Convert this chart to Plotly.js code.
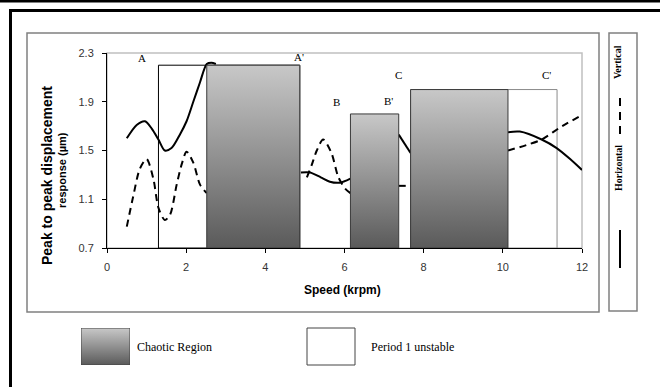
<!DOCTYPE html>
<html><head><meta charset="utf-8">
<script src="https://cdn.plot.ly/plotly-3.0.1.min.js"></script>
<style>html,body{margin:0;padding:0;background:#fff}#chart{width:660px;height:387px}</style>
</head><body><div id="chart"></div>
<script>
// ---- data ----
const xTickVals = [0, 2, 4, 6, 8, 10, 12];
const yTickVals = [0.7, 1.1, 1.5, 1.9, 2.3];
const yTickText = ['0.7', '1.1', '1.5', '1.9', '2.3'];

// Horizontal response (solid) – visible segments, null = hidden by chaotic regions
const horizSpeed = [0.5, 0.75, 0.96, 1.13, 1.30, 1.46, 1.63, 1.84, 2.01, 2.18, 2.35, 2.52, 2.64, 2.75, null,
                    4.9, 5.13, 5.4, 5.63, 5.88, 6.15, null,
                    7.37, 7.67, null,
                    10.13, 10.43, 10.98, 11.36, 11.7, 12.0];
const horizResp  = [1.60, 1.71, 1.74, 1.68, 1.59, 1.50, 1.52, 1.63, 1.74, 1.90, 2.06, 2.21, 2.22, 2.21, null,
                    1.32, 1.32, 1.28, 1.244, 1.236, 1.27, null,
                    1.63, 1.48, null,
                    1.65, 1.655, 1.59, 1.52, 1.43, 1.34];

// Vertical response (dashed)
const vertSpeed = [0.5, 0.66, 0.83, 1.0, 1.17, 1.30, 1.46, 1.59, 1.76, 1.89, 2.01, 2.18, 2.35, 2.52, null,
                   5.05, 5.17, 5.3, 5.46, 5.67, 5.84, 6.01, 6.15, null,
                   7.37, 7.67, null,
                   10.13, 10.6, 10.98, 11.5, 12.0];
const vertResp  = [0.875, 1.12, 1.35, 1.43, 1.27, 1.03, 0.93, 0.97, 1.22, 1.39, 1.49, 1.40, 1.22, 1.15, null,
                   1.28, 1.38, 1.50, 1.59, 1.48, 1.285, 1.19, 1.15, null,
                   1.21, 1.21, null,
                   1.50, 1.545, 1.59, 1.70, 1.79];

// Regions
const chaoticStart = [2.52, 6.15, 7.67];
const chaoticEnd   = [4.87, 7.37, 10.13];
const chaoticTop   = [2.2, 1.8, 2.0];
const periodStart  = [1.3, 7.67];
const periodEnd    = [4.87, 11.37];
const periodTop    = [2.2, 2.0];
const baseResp = 0.7;

const regionLabels = ['A', "A'", 'B', "B'", 'C', "C'"];
const labelSpeed   = [0.88, 4.85, 5.80, 7.10, 7.36, 11.1];
const labelResp    = [2.26, 2.27, 1.90, 1.91, 2.12, 2.12];

// ---- build ----
const W = 660, H = 387;
const px = v => v / W;
const py = v => 1 - v / H;
const SANS = 'Liberation Sans, Arial, sans-serif';
const SERIF = 'Liberation Serif, Times New Roman, serif';
const darkGrey = '#5a5a5a', lightGrey = '#c8c8c8';
const grad = {type: 'vertical', colorscale: [[0, darkGrey], [1, lightGrey]]};

const rectXY = (s, e, top) => ({x: [s, e, e, s, s], y: [baseResp, baseResp, top, top, baseResp]});

const traces = [];
// period-1 unstable (white) regions underneath
periodStart.forEach((s, i) => {
  const r = rectXY(s, periodEnd[i], periodTop[i]);
  traces.push({type: 'scatter', mode: 'lines', x: r.x, y: r.y, fill: 'toself', fillcolor: '#ffffff',
    line: {color: i === 0 ? '#000000' : '#8a8a8a', width: 1}, hoverinfo: 'skip', showlegend: false});
});
// curves
traces.push({type: 'scatter', mode: 'lines', x: horizSpeed, y: horizResp, connectgaps: false,
  line: {color: '#000', width: 2, shape: 'spline', smoothing: 0.8}, showlegend: false, hoverinfo: 'skip'});
traces.push({type: 'scatter', mode: 'lines', x: vertSpeed, y: vertResp, connectgaps: false,
  line: {color: '#000', width: 2, dash: '7px,5px', shape: 'spline', smoothing: 0.8}, showlegend: false, hoverinfo: 'skip'});
// chaotic regions on top
chaoticStart.forEach((s, i) => {
  const r = rectXY(s, chaoticEnd[i], chaoticTop[i]);
  traces.push({type: 'scatter', mode: 'lines', x: r.x, y: r.y, fill: 'toself', fillgradient: grad,
    line: {color: '#3a3a3a', width: 1}, hoverinfo: 'skip', showlegend: false});
});
// legend swatch (gradient) on its own small axes
traces.push({type: 'scatter', mode: 'lines', xaxis: 'x2', yaxis: 'y2', x: [0, 1, 1, 0, 0], y: [0, 0, 1, 1, 0],
  fill: 'toself', fillgradient: grad, line: {color: '#444', width: 1}, hoverinfo: 'skip', showlegend: false});

const frameRect = (x0, y0, x1, y1, color, width, fill) => ({type: 'rect', xref: 'paper', yref: 'paper',
  x0: px(x0), x1: px(x1), y0: py(y1), y1: py(y0), line: {color: color, width: width}, fillcolor: fill || 'rgba(0,0,0,0)', layer: 'below'});

const shapes = [
  frameRect(0, 0, 660, 2.5, '#000', 0, '#000'),
  frameRect(9, 9, 660, 12, '#000', 0, '#000'),
  frameRect(9, 9, 12, 387, '#000', 0, '#000'),
  frameRect(27, 33, 599, 312, '#808080', 1.5),
  frameRect(609, 33, 637, 311, '#808080', 1.5),
  // plot area light border
  {type: 'rect', xref: 'x domain', yref: 'y domain', x0: 0, x1: 1, y0: 0, y1: 1, line: {color: '#c0c0c0', width: 1.5}, layer: 'below'},
  // bottom legend white swatch
  frameRect(307, 328, 355, 365, '#444', 1, '#fff'),
  // right legend line samples
  {type: 'line', xref: 'paper', yref: 'paper', x0: px(620), x1: px(620), y0: py(98), y1: py(140), line: {color: '#000', width: 2, dash: '8px,6px'}},
  {type: 'line', xref: 'paper', yref: 'paper', x0: px(620), x1: px(620), y0: py(230), y1: py(268), line: {color: '#000', width: 2}}
];

const annotations = regionLabels.map((t, i) => ({text: t, x: labelSpeed[i], y: labelResp[i], xref: 'x', yref: 'y',
  showarrow: false, font: {family: SERIF, size: 11, color: '#000'}}));

const pAnn = (text, x, y, size, extra) => Object.assign({text: text, x: px(x), y: py(y), xref: 'paper', yref: 'paper',
  showarrow: false, xanchor: 'center', yanchor: 'middle', font: {family: SANS, size: size, color: '#000'}}, extra || {});

annotations.push(pAnn('<b>Peak to peak displacement</b>', 47, 176, 14, {textangle: -90}));
annotations.push(pAnn('<b>response (µm)</b>', 62, 170, 11, {textangle: -90}));
annotations.push(pAnn('<b>Speed (krpm)</b>', 342, 290, 12));
annotations.push(pAnn('Chaotic Region', 135, 347, 12, {xanchor: 'left', font: {family: SERIF, size: 12, color: '#000'}}));
annotations.push(pAnn('Period 1 unstable', 369, 347, 12, {xanchor: 'left', font: {family: SERIF, size: 12, color: '#000'}}));
annotations.push(pAnn('<b>Vertical</b>', 618, 62, 10, {textangle: -90, font: {family: SERIF, size: 10, color: '#000'}}));
annotations.push(pAnn('<b>Horizontal</b>', 618, 168, 10, {textangle: -90, font: {family: SERIF, size: 10, color: '#000'}}));

const layout = {
  width: W, height: H,
  margin: {l: 0, r: 0, t: 0, b: 0},
  paper_bgcolor: '#fff', plot_bgcolor: 'rgba(0,0,0,0)',
  showlegend: false,
  xaxis: {domain: [px(107), px(582)], range: [0, 12], tickvals: xTickVals, showline: true, linecolor: '#000', linewidth: 1,
    ticks: 'outside', ticklen: 4, tickcolor: '#000', showgrid: false, zeroline: false, fixedrange: true,
    tickfont: {family: SANS, size: 11, color: '#333'}, ticklabelstandoff: 5},
  yaxis: {domain: [py(248), py(53)], range: [0.7, 2.3], tickvals: yTickVals, ticktext: yTickText, showline: true, linecolor: '#000', linewidth: 1,
    ticks: 'outside', ticklen: 4, tickcolor: '#000', showgrid: false, zeroline: false, fixedrange: true,
    tickfont: {family: SANS, size: 11, color: '#333'}, ticklabelstandoff: 6},
  xaxis2: {domain: [px(81), px(130)], range: [0, 1], visible: false, fixedrange: true, anchor: 'y2'},
  yaxis2: {domain: [py(365), py(328)], range: [0, 1], visible: false, fixedrange: true, anchor: 'x2'},
  shapes: shapes,
  annotations: annotations
};

Plotly.newPlot('chart', traces, layout, {displayModeBar: false, staticPlot: true});
</script></body></html>
